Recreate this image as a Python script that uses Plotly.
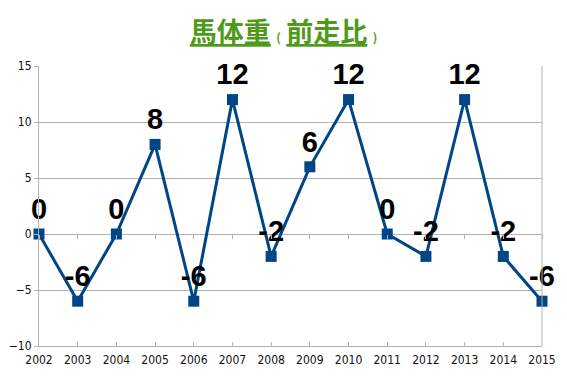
import plotly.graph_objects as go

years = [2002, 2003, 2004, 2005, 2006, 2007, 2008, 2009, 2010, 2011, 2012, 2013, 2014, 2015]
weight_change = [0, -6, 0, 8, -6, 12, -2, 6, 12, 0, -2, 12, -2, -6]
y_ticks = [-10, -5, 0, 5, 10, 15]

line_color = "#004586"
title_color = "#4e9a1a"
axis_gray = "#b3b3b3"
label_font = "Liberation Sans, Arial"
tick_font = dict(family="DejaVu Sans Condensed, DejaVu Sans", size=12, color="#111")

fig = go.Figure()
fig.add_trace(go.Scatter(
    x=years, y=weight_change,
    mode="lines+markers+text",
    line=dict(color=line_color, width=3),
    marker=dict(symbol="square", size=11, color=line_color),
    text=[str(v) for v in weight_change],
    textposition="top center",
    textfont=dict(family=label_font, size=29, color="black", weight="bold"),
    cliponaxis=False,
    showlegend=False,
))
# invisible helper trace so the zero-crossing tick axis is drawn
fig.add_trace(go.Scatter(
    x=years, y=weight_change, xaxis="x2",
    mode="markers", marker=dict(opacity=0),
    hoverinfo="skip", showlegend=False,
))

fig.update_layout(
    width=567, height=378,
    margin=dict(l=31, r=33, t=58, b=40),
    paper_bgcolor="white", plot_bgcolor="white",
    title=dict(
        text="<u>馬体重</u><span style='font-size:12px'>&nbsp; (&nbsp;&nbsp;</span><u>前走比</u><span style='font-size:12px'>&nbsp;&nbsp;)</span>",
        x=0.486, xanchor="center", y=0.935, yanchor="middle",
        font=dict(family="Noto Sans CJK JP", size=27, color=title_color, weight="bold"),
    ),
    xaxis=dict(
        range=[2002, 2015], tickmode="array", tickvals=years,
        ticktext=[str(y) for y in years], automargin=False,
        showgrid=False, showline=True, linecolor=axis_gray, linewidth=1,
        mirror=False, ticks="inside", ticklen=4, tickcolor=axis_gray,
        tickfont=tick_font, ticklabelstandoff=3,
        zeroline=False,
    ),
    xaxis2=dict(
        range=[2002, 2015], tickmode="array", tickvals=years,
        overlaying="x", anchor="free", position=0.4, side="bottom",
        showticklabels=False, showgrid=False, showline=False,
        ticks="outside", ticklen=4, tickcolor=axis_gray, zeroline=False,
    ),
    yaxis=dict(
        range=[-10, 15], tickmode="array", tickvals=y_ticks, automargin=False,
        showgrid=True, gridcolor=axis_gray, gridwidth=1,
        showline=True, linecolor=axis_gray, linewidth=1,
        ticks="outside", ticklen=4, tickcolor=axis_gray,
        tickfont=tick_font,
        zeroline=False,
    ),
)
# right border line
fig.add_shape(type="line", xref="paper", yref="paper", x0=1, x1=1, y0=0, y1=1,
              line=dict(color=axis_gray, width=1))

fig.write_html("out.html")
